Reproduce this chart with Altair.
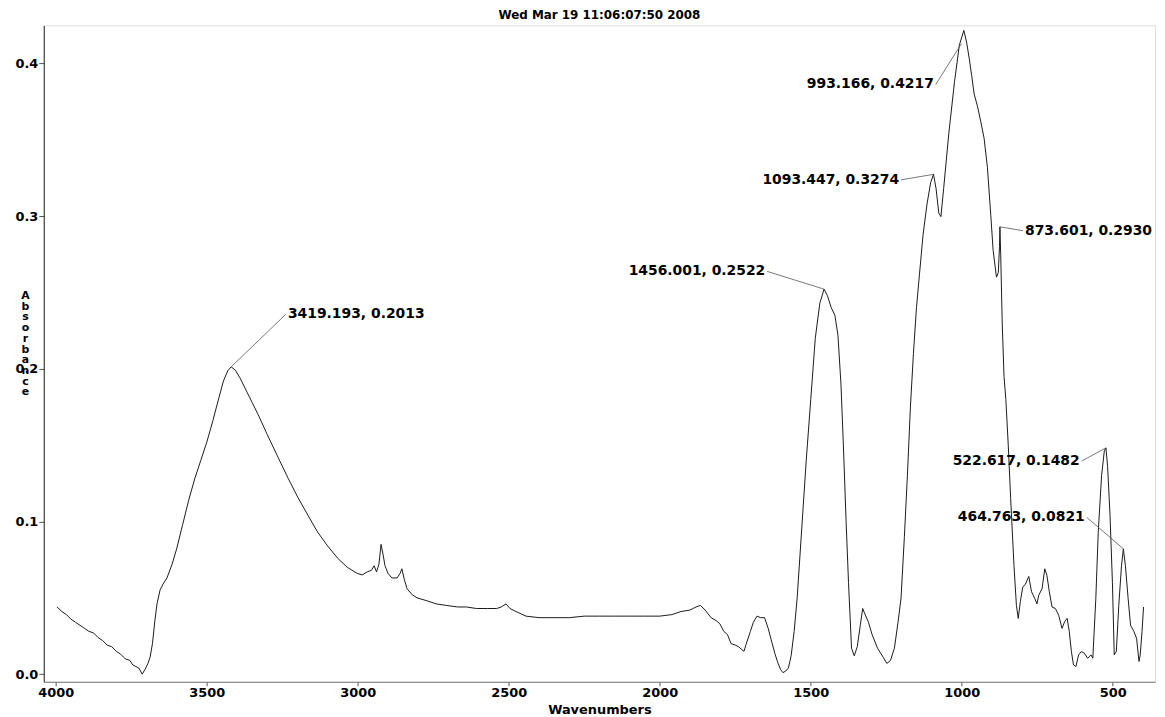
import altair as alt
import pandas as pd

# ---- spectrum ----
wavenumber = [
    3996, 3980, 3965, 3950, 3935, 3920, 3905, 3890, 3875, 3860, 3845, 3830, 3815, 3800,
    3785, 3770, 3755, 3745, 3735, 3725, 3714, 3705, 3695, 3688, 3680, 3672, 3665, 3655,
    3645, 3632, 3615, 3600, 3580, 3560, 3540, 3520, 3500, 3480, 3460, 3445, 3430, 3419.193,
    3405, 3390, 3370, 3350, 3330, 3300, 3264, 3230, 3199, 3165, 3133, 3100, 3067, 3035,
    3002, 2985, 2969, 2955, 2946, 2938, 2930, 2923, 2916, 2910, 2900, 2887, 2870, 2860,
    2854, 2846, 2837, 2820, 2804, 2770, 2740, 2706, 2670, 2640, 2607, 2570, 2540, 2525,
    2509, 2496, 2476, 2443, 2400, 2350, 2300, 2250, 2200, 2150, 2100, 2050, 2000, 1960,
    1930, 1900, 1880, 1865, 1850, 1830, 1813, 1801, 1788, 1776, 1764, 1750, 1739, 1728,
    1721, 1715, 1700, 1690, 1678, 1666, 1653, 1641, 1629, 1618, 1610, 1600, 1592, 1583,
    1574, 1565, 1555, 1545, 1530, 1515, 1500, 1485, 1470, 1456.001, 1445, 1432, 1420, 1410,
    1400, 1392, 1383, 1375, 1365, 1356, 1346, 1336, 1328, 1322, 1309, 1297, 1279, 1260,
    1248, 1236, 1223, 1211, 1201, 1190, 1180, 1170, 1160, 1150, 1140, 1128, 1115, 1103,
    1093.447, 1085, 1076, 1069, 1060, 1043, 1024, 1008, 993.166, 984, 975, 967, 959, 948,
    937, 926, 915, 904, 896, 890, 885, 879, 875, 873.601, 871, 866, 860, 854,
    846, 838, 827, 819, 813, 806, 798, 789, 778, 769, 758, 751, 745, 734,
    725, 718, 710, 701, 690, 679, 668, 659, 651, 644, 637, 630, 622, 613,
    604, 594, 583, 572, 566, 556, 548, 537, 528, 522.617, 517, 509, 501, 495,
    488, 480, 471, 464.763, 458, 449, 441, 430, 421, 413, 409, 403, 398,
]
absorbance = [
    0.044, 0.041, 0.039, 0.036, 0.034, 0.032, 0.030, 0.028, 0.027, 0.024, 0.022, 0.019, 0.018, 0.015,
    0.013, 0.010, 0.009, 0.006, 0.005, 0.004, 0.000, 0.003, 0.007, 0.011, 0.020, 0.035, 0.046, 0.055,
    0.059, 0.063, 0.072, 0.082, 0.098, 0.114, 0.128, 0.140, 0.152, 0.166, 0.181, 0.192, 0.199, 0.2013,
    0.199, 0.194, 0.186, 0.178, 0.170, 0.157, 0.142, 0.128, 0.116, 0.104, 0.093, 0.084, 0.076, 0.070,
    0.066, 0.065, 0.067, 0.068, 0.071, 0.067, 0.072, 0.085, 0.078, 0.071, 0.066, 0.063, 0.063, 0.066,
    0.069, 0.062, 0.056, 0.052, 0.050, 0.048, 0.046, 0.045, 0.044, 0.044, 0.043, 0.043, 0.043, 0.044,
    0.046, 0.043, 0.041, 0.038, 0.037, 0.037, 0.037, 0.038, 0.038, 0.038, 0.038, 0.038, 0.038, 0.039,
    0.041, 0.042, 0.044, 0.045, 0.042, 0.037, 0.035, 0.033, 0.028, 0.026, 0.020, 0.019, 0.018, 0.016,
    0.015, 0.019, 0.028, 0.034, 0.038, 0.037, 0.037, 0.030, 0.021, 0.013, 0.008, 0.003, 0.001, 0.002,
    0.004, 0.012, 0.028, 0.050, 0.095, 0.140, 0.180, 0.220, 0.243, 0.2522, 0.248, 0.240, 0.235, 0.222,
    0.190, 0.150, 0.100, 0.060, 0.017, 0.012, 0.018, 0.032, 0.043, 0.040, 0.034, 0.026, 0.017, 0.011,
    0.007, 0.009, 0.017, 0.034, 0.050, 0.090, 0.130, 0.175, 0.210, 0.240, 0.262, 0.288, 0.308, 0.322,
    0.3274, 0.318, 0.302, 0.2997, 0.318, 0.354, 0.388, 0.412, 0.4217, 0.414, 0.403, 0.392, 0.380, 0.372,
    0.362, 0.351, 0.332, 0.301, 0.2775, 0.268, 0.260, 0.263, 0.280, 0.293, 0.275, 0.230, 0.195, 0.180,
    0.150, 0.115, 0.071, 0.045, 0.0365, 0.0475, 0.057, 0.059, 0.064, 0.054, 0.0495, 0.046, 0.0517, 0.056,
    0.069, 0.0647, 0.054, 0.044, 0.043, 0.0386, 0.030, 0.0345, 0.0365, 0.028, 0.015, 0.006, 0.005, 0.0126,
    0.0148, 0.0137, 0.0104, 0.0126, 0.0104, 0.0495, 0.093, 0.130, 0.146, 0.1482, 0.136, 0.104, 0.060, 0.0126,
    0.015, 0.045, 0.071, 0.0821, 0.071, 0.0495, 0.032, 0.028, 0.0235, 0.0083, 0.0126, 0.028, 0.044,
]

x_ticks = [4000, 3500, 3000, 2500, 2000, 1500, 1000, 500]
y_ticks = [0.0, 0.1, 0.2, 0.3, 0.4]

# ---- peak annotations ----
label_text = ["3419.193, 0.2013", "1456.001, 0.2522", "1093.447, 0.3274", "993.166, 0.4217",
              "873.601, 0.2930", "522.617, 0.1482", "464.763, 0.0821"]
label_wn = [3238, 1644, 1201, 1086, 797, 603, 586]
label_abs = [0.2358, 0.2638, 0.3238, 0.3863, 0.2905, 0.1396, 0.1027]
target_wn = [3419.193, 1456.001, 1093.447, 1001, 873.601, 522.617, 464.763]
target_abs = [0.2013, 0.2522, 0.3274, 0.413, 0.2930, 0.1482, 0.0821]
label_side = ["left", "right", "right", "right", "left", "right", "right"]

spec = pd.DataFrame({"wn": wavenumber, "a": absorbance})
ann = pd.DataFrame({"text": label_text, "lx": label_wn, "ly": label_abs,
                    "tx": target_wn, "ty": target_abs, "side": label_side})

FONT = "DejaVu Sans"
xscale = alt.Scale(domain=[360, 4040], reverse=True, nice=False, zero=False)
yscale = alt.Scale(domain=[-0.005, 0.425], nice=False, zero=False)

xaxis = alt.Axis(values=x_ticks, format="d", title="Wavenumbers", grid=False,
                 labelFont=FONT, labelFontWeight="bold", labelFontSize=13, labelColor="black",
                 labelFlush=False, labelPadding=1, tickSize=4, tickColor="#555",
                 domainColor="#777", titleFont=FONT, titleFontWeight="bold",
                 titleFontSize=13, titleColor="black", titlePadding=4)
yaxis = alt.Axis(values=y_ticks, format=".1f", title=list("Absorbance"), grid=False,
                 labelFont=FONT, labelFontWeight="bold", labelFontSize=13, labelColor="black",
                 labelPadding=1, tickSize=5, tickColor="#555", domainColor="#222",
                 titleAngle=0, titleX=-19, titleY=266, titleAlign="center", titleBaseline="top",
                 titleLineHeight=10.8, titleFont=FONT, titleFontWeight="bold",
                 titleFontSize=11, titleColor="black")

line = alt.Chart(spec).mark_line(color="#1a1a1a", strokeWidth=1).encode(
    x=alt.X("wn:Q", scale=xscale, axis=xaxis),
    y=alt.Y("a:Q", scale=yscale, axis=yaxis),
)

leaders = alt.Chart(ann).mark_rule(color="#555", strokeWidth=0.8).encode(
    x=alt.X("lx:Q", scale=xscale), x2="tx:Q",
    y=alt.Y("ly:Q", scale=yscale), y2="ty:Q",
)

text_left = alt.Chart(ann).transform_filter(alt.datum.side == "left").mark_text(
    align="left", baseline="middle", dx=2, font=FONT, fontWeight="bold", fontSize=14,
    color="black", clip=True
).encode(x=alt.X("lx:Q", scale=xscale), y=alt.Y("ly:Q", scale=yscale), text="text:N")

text_right = alt.Chart(ann).transform_filter(alt.datum.side == "right").mark_text(
    align="right", baseline="middle", dx=-2, font=FONT, fontWeight="bold", fontSize=14,
    color="black", clip=True
).encode(x=alt.X("lx:Q", scale=xscale), y=alt.Y("ly:Q", scale=yscale), text="text:N")

chart = alt.layer(line, leaders, text_left, text_right).properties(
    width=1119, height=661,
    title=alt.TitleParams("Wed Mar 19 11:06:07:50 2008", font=FONT, fontSize=12,
                          fontWeight="bold", anchor="middle", offset=3, color="black"),
    padding={"left": 36, "top": 15, "right": 2, "bottom": 33},
    autosize=alt.AutoSizeParams(type="none"),
).configure_view(stroke="#777", strokeWidth=1).configure(background="white")

chart.save("out.html", embed_options={"renderer": "svg", "actions": False})
